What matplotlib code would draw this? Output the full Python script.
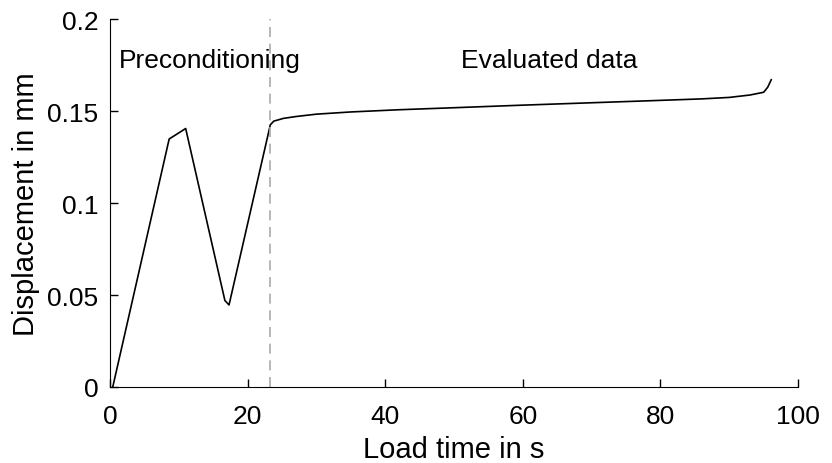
import matplotlib.pyplot as plt

plt.rcParams['font.family'] = ['Liberation Sans', 'DejaVu Sans']

# load time in s / displacement in mm
load_time = [0.4, 8.6, 11.0, 16.7, 17.3, 23.3, 23.8, 25.2, 27.0, 30.0, 35.0, 42.0,
             50.0, 60.0, 70.0, 78.5, 86.0, 90.0, 93.0, 95.0, 95.6, 96.1]
displacement = [0.0, 0.1348, 0.1405, 0.0470, 0.0446, 0.1425, 0.1445, 0.1460, 0.1470,
                0.1483, 0.1495, 0.1507, 0.1518, 0.1532, 0.1545, 0.1556, 0.1566,
                0.1574, 0.1587, 0.1602, 0.1630, 0.1670]
split_time = 23.3
xticks = [0, 20, 40, 60, 80, 100]
yticks = [0, 0.05, 0.1, 0.15, 0.2]
ytick_labels = ['0', '0.05', '0.1', '0.15', '0.2']

fig = plt.figure(figsize=(8.32, 4.64), dpi=100)
ax = fig.add_axes([0.1322, 0.1638, 0.827, 0.793])

ax.plot(load_time, displacement, color='black', lw=1.2)
ax.axvline(split_time, color='#aaaaaa', lw=1.2, ls=(0, (6, 4)))

ax.text(1.3, 0.178, 'Preconditioning', fontsize=19, va='center')
ax.text(51.0, 0.178, 'Evaluated data', fontsize=19, va='center')

ax.set_xlim(0, 100)
ax.set_ylim(0, 0.2)
ax.set_xticks(xticks)
ax.set_yticks(yticks)
ax.set_yticklabels(ytick_labels)
ax.tick_params(direction='in', labelsize=19, length=6, width=1)
ax.tick_params(axis='x', pad=12)
ax.tick_params(axis='y', pad=8.5)
ax.set_xlabel('Load time in s', fontsize=21, labelpad=5)
ax.set_ylabel('Displacement in mm', fontsize=21, labelpad=5)
ax.spines['top'].set_visible(False)
ax.spines['right'].set_visible(False)

fig.savefig('out.png', dpi=100)
